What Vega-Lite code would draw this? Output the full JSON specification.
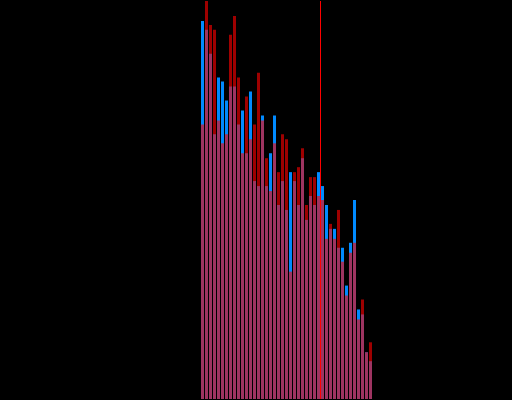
{
  "$schema": "https://vega.github.io/schema/vega-lite/v6.json",
  "width": 512,
  "height": 400,
  "padding": 0,
  "autosize": {"type": "fit", "contains": "padding"},
  "background": "black",
  "config": {"view": {"stroke": null}},
  "datasets": {
    "bins": [
      {"bin": 50, "blue": 380, "red": 276},
      {"bin": 51, "blue": 371, "red": 400},
      {"bin": 52, "blue": 347, "red": 376},
      {"bin": 53, "blue": 266, "red": 371},
      {"bin": 54, "blue": 323, "red": 280},
      {"bin": 55, "blue": 319, "red": 257},
      {"bin": 56, "blue": 300, "red": 266},
      {"bin": 57, "blue": 314, "red": 366},
      {"bin": 58, "blue": 314, "red": 385},
      {"bin": 59, "blue": 276, "red": 323},
      {"bin": 60, "blue": 290, "red": 247},
      {"bin": 61, "blue": 247, "red": 304},
      {"bin": 62, "blue": 309, "red": 261},
      {"bin": 63, "blue": 219, "red": 276},
      {"bin": 64, "blue": 214, "red": 328},
      {"bin": 65, "blue": 285, "red": 280},
      {"bin": 66, "blue": 214, "red": 242},
      {"bin": 67, "blue": 247, "red": 209},
      {"bin": 68, "blue": 285, "red": 257},
      {"bin": 69, "blue": 195, "red": 228},
      {"bin": 70, "blue": 219, "red": 266},
      {"bin": 71, "blue": 190, "red": 261},
      {"bin": 72, "blue": 228, "red": 128},
      {"bin": 73, "blue": 219, "red": 228},
      {"bin": 74, "blue": 195, "red": 233},
      {"bin": 75, "blue": 242, "red": 252},
      {"bin": 76, "blue": 180, "red": 195},
      {"bin": 77, "blue": 204, "red": 223},
      {"bin": 78, "blue": 195, "red": 223},
      {"bin": 79, "blue": 228, "red": 204},
      {"bin": 80, "blue": 214, "red": 200},
      {"bin": 81, "blue": 195, "red": 161},
      {"bin": 82, "blue": 171, "red": 176},
      {"bin": 83, "blue": 171, "red": 161},
      {"bin": 84, "blue": 152, "red": 190},
      {"bin": 85, "blue": 152, "red": 138},
      {"bin": 86, "blue": 114, "red": 104},
      {"bin": 87, "blue": 157, "red": 147},
      {"bin": 88, "blue": 200, "red": 157},
      {"bin": 89, "blue": 90, "red": 80},
      {"bin": 90, "blue": 85, "red": 100},
      {"bin": 91, "blue": 47, "red": 47},
      {"bin": 92, "blue": 38, "red": 57}
    ],
    "stats": [{"mean": 80.125}]
  },
  "layer": [
    {
      "data": {"name": "bins"},
      "transform": [{"calculate": "datum.bin + 1", "as": "bin_end"}],
      "mark": {"type": "bar", "color": "#008aff", "binSpacing": 1},
      "encoding": {
        "x": {"field": "bin", "type": "quantitative", "bin": "binned", "scale": {"domain": [0, 128], "nice": false, "zero": false}, "axis": null},
        "x2": {"field": "bin_end"},
        "y": {"field": "blue", "type": "quantitative", "scale": {"domain": [0, 400], "nice": false}, "axis": null}
      }
    },
    {
      "data": {"name": "bins"},
      "transform": [{"calculate": "datum.bin + 1", "as": "bin_end"}],
      "mark": {"type": "bar", "color": "#ff0000", "opacity": 0.62, "binSpacing": 1},
      "encoding": {
        "x": {"field": "bin", "type": "quantitative", "bin": "binned", "axis": null},
        "x2": {"field": "bin_end"},
        "y": {"field": "red", "type": "quantitative", "axis": null}
      }
    },
    {
      "data": {"name": "stats"},
      "mark": {"type": "rule", "color": "#ff0000", "strokeWidth": 1},
      "encoding": {
        "x": {"field": "mean", "type": "quantitative"}
      }
    }
  ]
}
